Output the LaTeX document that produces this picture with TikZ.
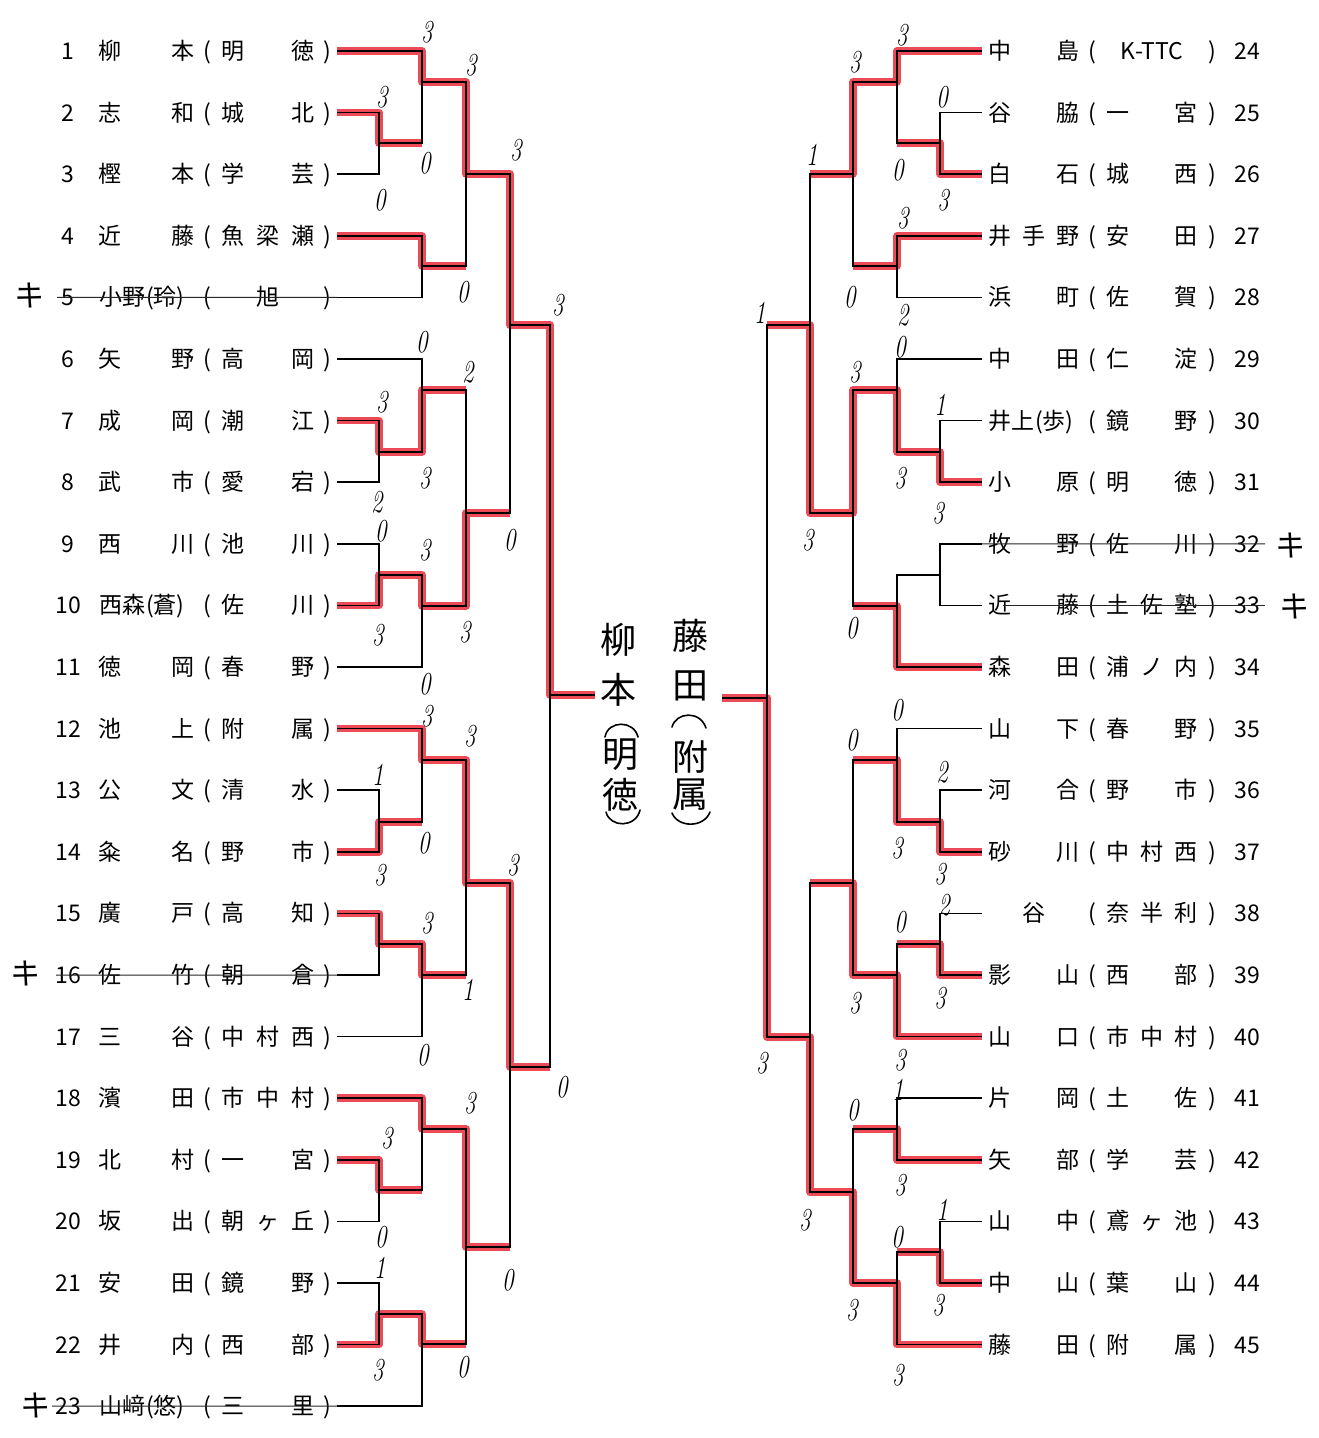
\documentclass[tikz,border=0pt]{standalone}
\usepackage{fontspec}
\newfontfamily\jp{Noto Sans CJK JP}
\usetikzlibrary{calc}
\definecolor{mk}{RGB}{236,74,86}
\newcommand\cc[2]{\rlap{\hspace*{#1pt}\makebox[0pt]{#2}}}
\newcommand\cl[2]{\rlap{\hspace*{#1pt}#2}}
\newcommand\Ln[2]{\cc{110}{#1}\cc{183}{#2}}
\newcommand\Ls[3]{\cc{233}{#1}\cc{268}{#2}\cc{303}{#3}}
\newcommand\Rn[3]{\cc{15}{#1}\cc{49}{#2}\cc{83}{#3}}
\newcommand\Rs[3]{\cc{133}{#1}\cc{167}{#2}\cc{201}{#3}}
\newcommand\Lrow[5]{\node[pl] (#1) at (0,#2+8.5) {\makebox[336pt][l]{\cc{68}{#3}#4\cc{207}{(}#5\cc{327}{)}}};}
\newcommand\Rrow[5]{\node[pl] (#1) at (985,#2+8.5) {\makebox[280pt][l]{#4\cc{107}{(}#5\cc{227}{)}\cc{262}{#3}}};}
\tikzset{
 bk/.style={line width=1.7pt, black},
 rd/.style={line width=7.5pt, mk, line join=round},
 pl/.style={inner sep=0pt, anchor=base west, font=\jp\fontsize{23}{23}\selectfont},
 sc/.style={inner sep=0pt, xscale=0.72, font=\itshape\fontsize{32}{32}\selectfont},
 ki/.style={inner sep=0pt, font=\jp\fontsize{30}{30}\selectfont},
 hw/.style={inner sep=0pt, font=\jp\fontsize{36}{36}\selectfont},
 hwl/.style={line width=1.6pt, black, line cap=round},
 st/.style={line width=1pt, black!85},
}
\begin{document}
\begin{tikzpicture}[x=1pt,y=-1pt]
\fill[white] (0,0) rectangle (1319,1438);
\useasboundingbox (0,0) rectangle (1319,1438);

% player line ends
\foreach \i in {1,...,23} \coordinate (L\i) at (337,{51+(\i-1)*61.6});
\foreach \i in {24,...,45} \coordinate (R\i) at (982,{51+(\i-24)*61.6});

% left match points
\coordinate (m1) at (379,143);  \coordinate (m2) at (422,82);
\coordinate (m3) at (422,266);  \coordinate (m4) at (466,174);
\coordinate (m5) at (379,452);  \coordinate (m6) at (422,390);
\coordinate (m7) at (379,575);  \coordinate (m8) at (422,606);
\coordinate (m9) at (466,513);  \coordinate (m10) at (510,325);
\coordinate (m11) at (379,822); \coordinate (m12) at (422,760);
\coordinate (m13) at (379,944); \coordinate (m14) at (422,975);
\coordinate (m15) at (466,883); \coordinate (m16) at (379,1190);
\coordinate (m17) at (422,1129);\coordinate (m18) at (379,1314);
\coordinate (m19) at (422,1344);\coordinate (m20) at (466,1247);
\coordinate (m21) at (510,1067);\coordinate (m22) at (550,695);
\coordinate (FL) at (595,695);
% right match points
\coordinate (r1) at (940,143);  \coordinate (r2) at (897,82);
\coordinate (r3) at (897,266);  \coordinate (r4) at (853,174);
\coordinate (r5) at (940,452);  \coordinate (r6) at (897,390);
\coordinate (r7) at (940,575);  \coordinate (r8) at (897,606);
\coordinate (r9) at (853,513);  \coordinate (r10) at (810,325);
\coordinate (r11) at (940,822); \coordinate (r12) at (897,760);
\coordinate (r13) at (940,944); \coordinate (r14) at (897,975);
\coordinate (r15) at (853,883); \coordinate (r16) at (897,1129);
\coordinate (r17) at (940,1252);\coordinate (r18) at (897,1283);
\coordinate (r19) at (853,1192);\coordinate (r20) at (810,1037);
\coordinate (r21) at (767,698); \coordinate (FR) at (722,698);

% red winner paths
\foreach \w/\m/\p in {L2/m1/m2, L1/m2/m4, L4/m3/m4, m2/m4/m10, L7/m5/m6, m5/m6/m9,
  L10/m7/m8, m7/m8/m9, m8/m9/m10, m4/m10/m22, L14/m11/m12, L12/m12/m15, L15/m13/m14,
  m13/m14/m15, m12/m15/m21, L19/m16/m17, L18/m17/m20, L22/m18/m19, m18/m19/m20,
  m17/m20/m21, m15/m21/m22, m10/m22/FL,
  R26/r1/r2, R24/r2/r4, R27/r3/r4, r2/r4/r10, R31/r5/r6, r5/r6/r9, R34/r8/r9,
  r6/r9/r10, r9/r10/r21, R37/r11/r12, r11/r12/r15, R39/r13/r14, R40/r14/r15,
  r14/r15/r20, R42/r16/r19, R44/r17/r18, R45/r18/r19, r18/r19/r20, r19/r20/r21,
  r20/r21/FR}
  \draw[rd] (\w) -| (\m) -- (\m -| \p);

% black bracket
\foreach \a/\m/\b in {L2/m1/L3, L1/m2/m1, L4/m3/L5, m2/m4/m3, L7/m5/L8, L6/m6/m5,
  L9/m7/L10, m7/m8/L11, m6/m9/m8, m4/m10/m9, L13/m11/L14, L12/m12/m11, L15/m13/L16,
  m13/m14/L17, m12/m15/m14, L19/m16/L20, L18/m17/m16, L21/m18/L22, m18/m19/L23,
  m17/m20/m19, m15/m21/m20, m10/m22/m21,
  R25/r1/R26, R24/r2/r1, R27/r3/R28, r2/r4/r3, R30/r5/R31, R29/r6/r5, R32/r7/R33,
  r7/r8/R34, r6/r9/r8, r4/r10/r9, R36/r11/R37, R35/r12/r11, R38/r13/R39,
  r13/r14/R40, r12/r15/r14, R41/r16/R42, R43/r17/R44, r17/r18/R45, r16/r19/r18,
  r15/r20/r19, r10/r21/r20}
  \draw[bk] (\a) -| (\m) |- (\b);
\draw[bk] (m22) -- (FL);
\draw[bk] (r21) -- (FR);

% left players
\Lrow{P1}{51}{1}{\Ln{柳}{本}}{\Ls{明}{}{徳}}
\Lrow{P2}{112.6}{2}{\Ln{志}{和}}{\Ls{城}{}{北}}
\Lrow{P3}{174.2}{3}{\Ln{樫}{本}}{\Ls{学}{}{芸}}
\Lrow{P4}{235.8}{4}{\Ln{近}{藤}}{\Ls{魚}{梁}{瀬}}
\Lrow{P5}{297.4}{5}{\cl{99}{小野\kern1pt(玲)}}{\Ls{}{旭}{}}
\Lrow{P6}{359}{6}{\Ln{矢}{野}}{\Ls{高}{}{岡}}
\Lrow{P7}{420.6}{7}{\Ln{成}{岡}}{\Ls{潮}{}{江}}
\Lrow{P8}{482.2}{8}{\Ln{武}{市}}{\Ls{愛}{}{宕}}
\Lrow{P9}{543.8}{9}{\Ln{西}{川}}{\Ls{池}{}{川}}
\Lrow{P10}{605.4}{10}{\cl{99}{西森\kern1pt(蒼)}}{\Ls{佐}{}{川}}
\Lrow{P11}{667}{11}{\Ln{徳}{岡}}{\Ls{春}{}{野}}
\Lrow{P12}{728.6}{12}{\Ln{池}{上}}{\Ls{附}{}{属}}
\Lrow{P13}{790.2}{13}{\Ln{公}{文}}{\Ls{清}{}{水}}
\Lrow{P14}{851.8}{14}{\Ln{粂}{名}}{\Ls{野}{}{市}}
\Lrow{P15}{913.4}{15}{\Ln{廣}{戸}}{\Ls{高}{}{知}}
\Lrow{P16}{975}{16}{\Ln{佐}{竹}}{\Ls{朝}{}{倉}}
\Lrow{P17}{1036.6}{17}{\Ln{三}{谷}}{\Ls{中}{村}{西}}
\Lrow{P18}{1098.2}{18}{\Ln{濱}{田}}{\Ls{市}{中}{村}}
\Lrow{P19}{1159.8}{19}{\Ln{北}{村}}{\Ls{一}{}{宮}}
\Lrow{P20}{1221.4}{20}{\Ln{坂}{出}}{\Ls{朝}{ヶ}{丘}}
\Lrow{P21}{1283}{21}{\Ln{安}{田}}{\Ls{鏡}{}{野}}
\Lrow{P22}{1344.6}{22}{\Ln{井}{内}}{\Ls{西}{}{部}}
\Lrow{P23}{1406.2}{23}{\cl{99}{山﨑\kern1pt(悠)}}{\Ls{三}{}{里}}

% right players
\Rrow{P24}{51}{24}{\Rn{中}{}{島}}{\cc{167}{K-TTC}}
\Rrow{P25}{112.6}{25}{\Rn{谷}{}{脇}}{\Rs{一}{}{宮}}
\Rrow{P26}{174.2}{26}{\Rn{白}{}{石}}{\Rs{城}{}{西}}
\Rrow{P27}{235.8}{27}{\Rn{井}{手}{野}}{\Rs{安}{}{田}}
\Rrow{P28}{297.4}{28}{\Rn{浜}{}{町}}{\Rs{佐}{}{賀}}
\Rrow{P29}{359}{29}{\Rn{中}{}{田}}{\Rs{仁}{}{淀}}
\Rrow{P30}{420.6}{30}{\cl{3}{井上\kern1pt(歩)}}{\Rs{鏡}{}{野}}
\Rrow{P31}{482.2}{31}{\Rn{小}{}{原}}{\Rs{明}{}{徳}}
\Rrow{P32}{543.8}{32}{\Rn{牧}{}{野}}{\Rs{佐}{}{川}}
\Rrow{P33}{605.4}{33}{\Rn{近}{}{藤}}{\Rs{土}{佐}{塾}}
\Rrow{P34}{667}{34}{\Rn{森}{}{田}}{\Rs{浦}{ノ}{内}}
\Rrow{P35}{728.6}{35}{\Rn{山}{}{下}}{\Rs{春}{}{野}}
\Rrow{P36}{790.2}{36}{\Rn{河}{}{合}}{\Rs{野}{}{市}}
\Rrow{P37}{851.8}{37}{\Rn{砂}{}{川}}{\Rs{中}{村}{西}}
\Rrow{P38}{913.4}{38}{\Rn{}{谷}{}}{\Rs{奈}{半}{利}}
\Rrow{P39}{975}{39}{\Rn{影}{}{山}}{\Rs{西}{}{部}}
\Rrow{P40}{1036.6}{40}{\Rn{山}{}{口}}{\Rs{市}{中}{村}}
\Rrow{P41}{1098.2}{41}{\Rn{片}{}{岡}}{\Rs{土}{}{佐}}
\Rrow{P42}{1159.8}{42}{\Rn{矢}{}{部}}{\Rs{学}{}{芸}}
\Rrow{P43}{1221.4}{43}{\Rn{山}{}{中}}{\Rs{鳶}{ヶ}{池}}
\Rrow{P44}{1283}{44}{\Rn{中}{}{山}}{\Rs{葉}{}{山}}
\Rrow{P45}{1344.6}{45}{\Rn{藤}{}{田}}{\Rs{附}{}{属}}

% withdrawals: strike lines and marks
\draw[st] (57,297.4) -- (L5);
\draw[st] (56,975) -- (L16);
\draw[st] (52,1406.2) -- (L23);
\draw[st] (R32) -- (1265,543.8);
\draw[st] (1003,605.4) -- (1265,605.4);
\node[ki, rotate=-8] (k1) at (30,296) {キ};
\node[ki, rotate=-8] (k2) at (26,973) {キ};
\node[ki, rotate=-8] (k3) at (36,1405) {キ};
\node[ki, rotate=-8] (k4) at (1291,545) {キ};
\node[ki, rotate=-8] (k5) at (1295,606) {キ};

% scores
\foreach \x/\y/\t [count=\k] in {427/32/3, 471/65/3, 382/97/3, 425/163/0, 380/200/0,
  516/150/3, 463/292/0, 558/305/3, 422/342/0, 468/372/2, 382/402/3, 425/478/3,
  377/502/2, 381/531/0, 510/540/0, 425/550/3, 378/635/3, 465/632/3, 425/684/0,
  427/716/3, 470/736/3, 378/775/1, 424/843/0, 513/865/3, 380/875/3, 427/923/3,
  468/990/1, 423/1055/0, 562/1087/0, 470/1103/3, 387/1138/3, 381/1237/0,
  380/1268/1, 508/1280/0, 463/1367/0, 378/1370/3}
  \node[sc] (sl\k) at (\x,\y) {\t};
\foreach \x/\y/\t [count=\k] in {902/35/3, 855/62/3, 942/97/0, 812/155/1, 898/170/0,
  943/200/3, 903/218/3, 850/297/0, 760/313/1, 903/315/2, 900/347/0, 855/372/3,
  940/405/1, 900/478/3, 938/513/3, 808/540/3, 852/628/0, 897/710/0, 852/740/0,
  942/772/2, 897/848/3, 940/874/3, 944/905/2, 900/922/0, 940/998/3, 855/1003/3,
  900/1060/3, 762/1063/3, 898/1090/1, 853/1110/0, 900/1185/3, 942/1210/1,
  805/1220/3, 897/1237/0, 938/1305/3, 852/1310/3, 898/1375/3}
  \node[sc] (sr\k) at (\x,\y) {\t};

% handwritten finalists
\node[hw] (fa1) at (618,640) {柳};
\node[hw] (fa2) at (618,690) {本};
\node[hw] (fa4) at (620,755) {明};
\node[hw] (fa5) at (620,795) {徳};
\draw[hwl] (605,737) .. controls (608,720) and (634,720) .. (638,737);
\draw[hwl] (606,812) .. controls (610,828) and (636,828) .. (640,810);
\node[hw] (fb1) at (690,636) {藤};
\node[hw] (fb2) at (690,686) {田};
\node[hw] (fb4) at (690,757) {附};
\node[hw] (fb5) at (690,795) {属};
\draw[hwl] (672,727) .. controls (676,712) and (700,710) .. (706,728);
\draw[hwl] (672,813) .. controls (678,828) and (704,828) .. (710,812);
\end{tikzpicture}
\end{document}
